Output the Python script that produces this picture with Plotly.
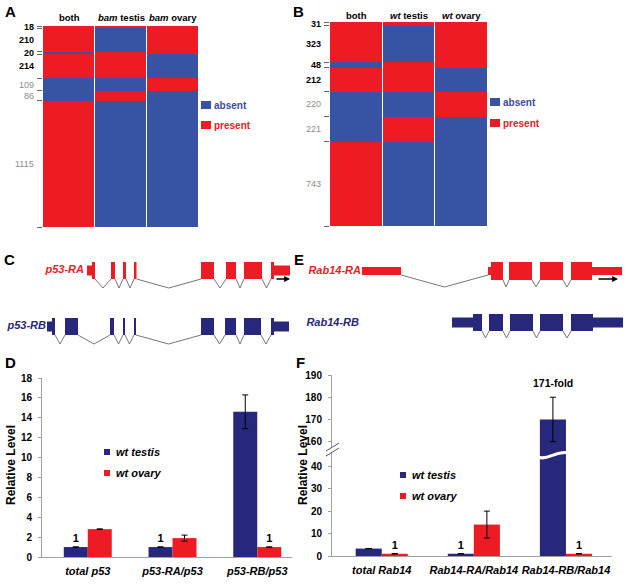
import plotly.graph_objects as go

W, H = 629, 585
def X(px): return px / W
def Y(py): return 1 - py / H

FONT = 'Arial, "Liberation Sans", sans-serif'
RED = '#ed1c24'
BLUE = '#3953a4'
NAVY = '#27277c'
GREY = '#8c8c8c'

# ---------------- Panels A / B : presence / absence maps ----------------
A_counts = [18, 210, 20, 214, 109, 86, 1115]
B_counts = [31, 323, 48, 212, 220, 221, 743]
both_present = [1, 1, 0, 1, 0, 0, 1]
testis_present = [1, 0, 1, 1, 0, 1, 0]
ovary_present = [1, 1, 1, 0, 1, 0, 0]
count_bold = [True, True, True, True, False, False, False]
A_columns = ['both', '<i>bam</i> testis', '<i>bam</i> ovary']
B_columns = ['both', '<i>wt</i> testis', '<i>wt</i> ovary']
state_labels = ['absent', 'present']

# ---------------- Panels C / E : transcript structures ----------------
p53_RA_utr = [(87, 92), (274, 290)]
p53_RA_cds = [(92, 95), (111, 115), (123, 126), (134, 136.5), (201, 214), (226, 236), (244, 262), (271, 274)]
p53_RB_utr = [(47, 52), (274, 289)]
p53_RB_cds = [(52, 55), (65, 78), (110, 114), (123, 125), (134, 136), (201, 214), (225, 236), (244, 261), (271, 274)]
Rab14_RA_utr = [(362, 401), (488, 491), (592, 622)]
Rab14_RA_cds = [(491, 503), (509, 532), (540, 563), (571, 592)]
Rab14_RB_utr = [(452, 473), (593, 623)]
Rab14_RB_cds = [(473, 482), (489, 503), (510, 533), (540, 563), (571, 593)]

# ---------------- Panel D ----------------
D_categories = ['total p53', 'p53-RA/p53', 'p53-RB/p53']
D_testis = [1, 1, 14.6]
D_testis_err = [0.02, 0.02, 1.7]
D_ovary = [2.8, 1.9, 1]
D_ovary_err = [0.03, 0.3, 0.02]
D_testis_text = ['1', '1', '']
D_ovary_text = ['', '', '1']

# ---------------- Panel F ----------------
F_categories = ['total Rab14', 'Rab14-RA/Rab14', 'Rab14-RB/Rab14']
F_testis = [3.3, 1, 170]
F_testis_err = [0.02, 0.02, 10]
F_ovary = [1, 14, 1]
F_ovary_err = [0.02, 6, 0.02]
F_testis_text = ['', '1', '']
F_ovary_text = ['1', '', '1']
F_note = '171-fold'
F_lower_max = 45
F_upper_min = 154

series_names = ['wt testis', 'wt ovary']

fig = go.Figure()
shapes = []
annotations = []


def cum(v):
    out = [0]
    for c in v:
        out.append(out[-1] + c)
    return out


def heat_panel(counts, cols, xa, ya, header_y):
    edges = cum(counts)
    z = [[b, t, o] for b, t, o in zip(both_present, testis_present, ovary_present)]
    fig.add_trace(go.Heatmap(
        z=z, x=[-0.5, 0.5, 1.5, 2.5], y=edges, zmin=0, zmax=1,
        colorscale=[[0, BLUE], [0.5, BLUE], [0.5, RED], [1, RED]], showscale=False,
        xgap=1, ygap=0, xaxis=xa, yaxis=ya, hoverinfo='skip'))
    for i, c in enumerate(counts):
        annotations.append(dict(
            x=-0.5, xref=xa, xanchor='right', yanchor='middle', xshift=-7,
            y=(edges[i] + edges[i + 1]) / 2, yref=ya,
            text=f'<b>{c}</b>' if count_bold[i] else str(c), showarrow=False,
            font=dict(size=9, family=FONT, color='black' if count_bold[i] else GREY)))
    for j, name in enumerate(cols):
        annotations.append(dict(
            x=j, xref=xa, y=Y(header_y), yref='paper', xanchor='center', yanchor='middle',
            text=f'<b>{name}</b>', showarrow=False, font=dict(size=9.5, family=FONT, color='black')))


def heat_legend(x0, y_abs, y_pre):
    for (yy, col, tcol, lab) in [(y_abs, BLUE, '#3d4a9f', state_labels[0]),
                                 (y_pre, RED, '#e62129', state_labels[1])]:
        shapes.append(dict(type='rect', xref='paper', yref='paper',
                           x0=X(x0), x1=X(x0 + 10), y0=Y(yy + 4), y1=Y(yy - 4),
                           fillcolor=col, line_width=0))
        annotations.append(dict(x=X(x0 + 11), y=Y(yy), xref='paper', yref='paper',
                                xanchor='left', yanchor='middle', text=f'<b>{lab}</b>', showarrow=False,
                                font=dict(size=10, family=FONT, color=tcol)))


heat_panel(A_counts, A_columns, 'x', 'y', 17)
heat_panel(B_counts, B_columns, 'x2', 'y2', 15)
heat_legend(201, 105, 125)
heat_legend(490, 102, 123)


# ---------------- transcripts ----------------
def transcript(utr, cds, cy, h_cds, h_utr, vy, color):
    blocks = sorted([(a, b, h_utr) for a, b in utr] + [(a, b, h_cds) for a, b in cds])
    for a, b, h in blocks:
        shapes.append(dict(type='rect', xref='x3', yref='y3', x0=a, x1=b,
                           y0=cy - h, y1=cy + h, fillcolor=color, line_width=0, layer='above'))
    xs, ys = [], []
    for (a1, b1, h1), (a2, b2, h2) in zip(blocks, blocks[1:]):
        if a2 - b1 > 0.6:
            xs += [b1, (b1 + a2) / 2, a2, None]
            ys += [cy + h1, vy, cy + h2, None]
    fig.add_trace(go.Scatter(x=xs, y=ys, mode='lines', line=dict(color='#666', width=0.9),
                             xaxis='x3', yaxis='y3', showlegend=False, hoverinfo='skip'))


transcript(p53_RA_utr, p53_RA_cds, 270.5, 8.5, 5, 288, RED)
transcript(p53_RB_utr, p53_RB_cds, 326.5, 8.5, 5, 344, NAVY)
transcript(Rab14_RA_utr, Rab14_RA_cds, 271, 9, 4, 287, RED)
transcript(Rab14_RB_utr, Rab14_RB_cds, 322.5, 8.5, 5, 338, NAVY)

gene_names = ['p53-RA', 'p53-RB', 'Rab14-RA', 'Rab14-RB']
gene_label_x = [84, 46, 361, 359]
gene_label_y = [270.5, 326.5, 271, 323]
gene_colors = [RED, NAVY, RED, NAVY]
fig.add_trace(go.Scatter(
    x=gene_label_x, y=gene_label_y, mode='text',
    text=[f'<b><i>{g}</i></b>' for g in gene_names], textposition='middle left',
    textfont=dict(size=11, family=FONT, color=gene_colors), cliponaxis=False,
    xaxis='x3', yaxis='y3', showlegend=False, hoverinfo='skip'))

for (xa, xb, yy) in [(275, 290, 279), (597, 618, 279)]:
    annotations.append(dict(x=xb, y=yy, ax=xa, ay=yy, xref='x3', yref='y3',
                            axref='x3', ayref='y3', text='', showarrow=True,
                            arrowhead=2, arrowsize=0.9, arrowwidth=1.3, arrowcolor='black'))

# ---------------- Bar panels ----------------
HW = 0.1415
BW = 0.283


def bar(xidx, vals, errs, text, color, xa, ya):
    fig.add_trace(go.Bar(
        x=[i + xidx for i in range(len(vals))], y=vals, width=BW,
        marker=dict(color=color, line_width=0),
        error_y=dict(type='data', array=errs, visible=True, color='black', thickness=1, width=3),
        text=text, textposition='outside', cliponaxis=False,
        textfont=dict(size=11, family=FONT, color='black', weight='bold'),
        xaxis=xa, yaxis=ya, showlegend=False, hoverinfo='skip'))


bar(-HW, D_testis, D_testis_err, D_testis_text, NAVY, 'x4', 'y4')
bar(HW, D_ovary, D_ovary_err, D_ovary_text, RED, 'x4', 'y4')

# F lower segment
low_t_err = [e if v <= F_lower_max else 0 for v, e in zip(F_testis, F_testis_err)]
low_o_err = [e if v <= F_lower_max else 0 for v, e in zip(F_ovary, F_ovary_err)]
bar(-HW, F_testis, low_t_err, F_testis_text, NAVY, 'x5', 'y5')
bar(HW, F_ovary, low_o_err, F_ovary_text, RED, 'x5', 'y5')
# F upper segment
up_t = [v if v >= F_upper_min else None for v in F_testis]
up_t_err = [e if v >= F_upper_min else None for v, e in zip(F_testis, F_testis_err)]
fig.add_trace(go.Bar(
    x=[i - HW for i in range(3)], y=up_t, width=BW, marker=dict(color=NAVY, line_width=0),
    error_y=dict(type='data', array=up_t_err, visible=True, color='black', thickness=1, width=3),
    xaxis='x5', yaxis='y6', showlegend=False, hoverinfo='skip'))

i_max = max(range(3), key=lambda i: F_testis[i])
annotations.append(dict(x=i_max - HW, xref='x5', y=F_testis[i_max] + F_testis_err[i_max] + 3,
                        yref='y6', xanchor='center', yanchor='bottom', text=f'<b>{F_note}</b>',
                        showarrow=False, font=dict(size=10.5, family=FONT, color='black')))

# legends for bar panels
def bar_legend(x0, y1, y2):
    for yy, col, name in [(y1, NAVY, series_names[0]), (y2, RED, series_names[1])]:
        shapes.append(dict(type='rect', xref='paper', yref='paper', x0=X(x0), x1=X(x0 + 6),
                           y0=Y(yy + 3), y1=Y(yy - 3), fillcolor=col, line_width=0))
        annotations.append(dict(x=X(x0 + 10), y=Y(yy), xref='paper', yref='paper', xanchor='left',
                                yanchor='middle', text=f'<b><i>{name}</i></b>', showarrow=False,
                                font=dict(size=11, family=FONT, color='black')))


bar_legend(104, 452, 473)
bar_legend(400, 475, 496)

# y titles
for xx in [11, 303]:
    annotations.append(dict(x=X(xx), y=Y(465), xref='paper', yref='paper', text='<b>Relative Level</b>',
                            xanchor='center', yanchor='middle', textangle=-90, showarrow=False,
                            font=dict(size=12, family=FONT, color='black')))

# axis break marks (F)
shapes.append(dict(type='rect', xref='paper', yref='paper', x0=X(329), x1=X(336), y0=Y(452), y1=Y(447),
                   fillcolor='white', line_width=0, layer='above'))
for (a, b, c, d) in [(326, 451, 339, 443), (326, 456, 339, 448)]:
    shapes.append(dict(type='line', xref='paper', yref='paper', x0=X(a), y0=Y(b), x1=X(c), y1=Y(d),
                       line=dict(color='#555', width=1), layer='above'))
wave = (f'M {X(538)},{Y(457)} C {X(548)},{Y(461)} {X(556)},{Y(450)} {X(569)},{Y(453)}')
shapes.append(dict(type='path', xref='paper', yref='paper', path=wave,
                   line=dict(color='white', width=3), layer='above'))

# panel letters
for letter, (px, py) in {'A': (10, 11), 'B': (298, 11), 'C': (9, 259), 'D': (10, 362),
                         'E': (299, 259), 'F': (300, 362)}.items():
    annotations.append(dict(x=X(px), y=Y(py), xref='paper', yref='paper', text=f'<b>{letter}</b>',
                            xanchor='center', yanchor='middle', showarrow=False,
                            font=dict(size=15, family=FONT, color='black')))

hidden = dict(visible=False, showgrid=False, zeroline=False, automargin=False)
heat_y = dict(ticks='outside', ticklen=5, tickcolor='#666', tickwidth=1, showticklabels=False,
              showgrid=False, zeroline=False, showline=False, automargin=False)
bar_y = dict(showline=True, linecolor='#a0a0a0', linewidth=1, ticks='outside', ticklen=3,
             tickcolor='#a0a0a0', showgrid=False, zeroline=False, ticklabelstandoff=4, automargin=False,
             tickfont=dict(size=10, family=FONT, color='black', weight='bold'))
bar_x = dict(showline=True, linecolor='#a0a0a0', linewidth=1, ticks='outside', ticklen=4, automargin=False,
             tickcolor='rgba(0,0,0,0)', showgrid=False, zeroline=False, tickvals=[0, 1, 2],
             tickfont=dict(size=11, family=FONT, color='black'))

fig.update_layout(
    width=W, height=H, margin=dict(l=0, r=0, t=0, b=0, pad=0, autoexpand=False),
    paper_bgcolor='white', plot_bgcolor='rgba(0,0,0,0)',
    barmode='overlay', showlegend=False, font=dict(family=FONT),
    xaxis=dict(domain=[X(43), X(199)], range=[-0.5, 2.5], anchor='y', **hidden),
    yaxis=dict(domain=[Y(227), Y(26)], range=[sum(A_counts), 0], tickvals=cum(A_counts), anchor='x', **heat_y),
    xaxis2=dict(domain=[X(330), X(488)], range=[-0.5, 2.5], anchor='y2', **hidden),
    yaxis2=dict(domain=[Y(226), Y(22)], range=[sum(B_counts), 0], tickvals=cum(B_counts), anchor='x2', **heat_y),
    xaxis3=dict(domain=[0, 1], range=[0, W], anchor='y3', **hidden),
    yaxis3=dict(domain=[Y(350), Y(248)], range=[350, 248], anchor='x3', **hidden),
    xaxis4=dict(domain=[X(42), X(292)], range=[-0.54, 2.41], anchor='y4',
                ticktext=[f'<b><i>{c}</i></b>' for c in D_categories], **bar_x),
    yaxis4=dict(domain=[Y(557), Y(378)], range=[0, 18], dtick=2, anchor='x4', **bar_y),
    xaxis5=dict(domain=[X(332), X(612)], range=[-0.54, 2.5], anchor='y5',
                ticktext=[f'<b><i>{c}</i></b>' for c in F_categories], **bar_x),
    yaxis5=dict(domain=[Y(556), Y(455)], range=[0, F_lower_max], tickvals=[0, 10, 20, 30, 40], anchor='x5', **bar_y),
    yaxis6=dict(domain=[Y(455), Y(375)], range=[F_upper_min, 190], tickvals=[160, 170, 180, 190], anchor='x5', **bar_y),
    shapes=shapes, annotations=annotations,
)

fig.write_html('out.html', config={'displayModeBar': False},
               post_script="document.body.style.margin='0px';")
